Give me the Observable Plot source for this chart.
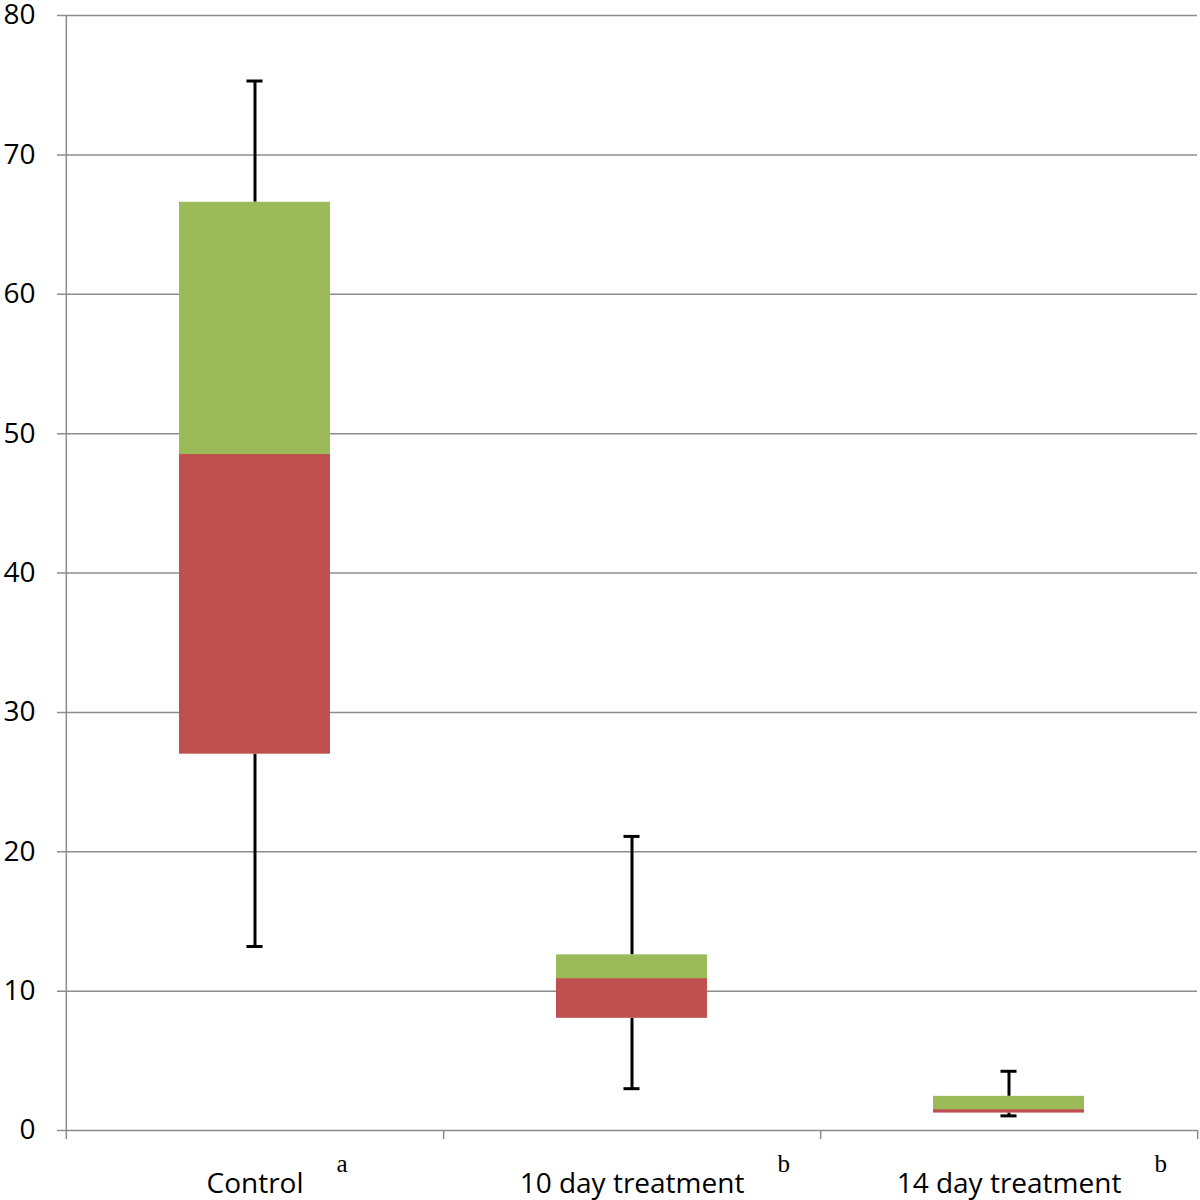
<!DOCTYPE html>
<html><head><meta charset="utf-8">
<script src="https://cdn.jsdelivr.net/npm/d3@7"></script>
<script src="https://cdn.jsdelivr.net/npm/@observablehq/plot@0.6"></script>
<style>html,body{margin:0;padding:0;background:#fff} svg{display:block}</style>
</head><body>
<div id="chart"></div>
<script>
const categories = ["Control", "10 day treatment", "14 day treatment"];
const whiskerMin = [13.2, 3.0, 1.05];
const q1 = [27.0, 8.05, 1.25];
const median = [48.5, 10.9, 1.5];
const q3 = [66.6, 12.6, 2.45];
const whiskerMax = [75.3, 21.1, 4.25];
const letters = ["a", "b", "b"];
const yTicks = [0, 10, 20, 30, 40, 50, 60, 70, 80];

const rows = categories.map((c, i) => ({
  c, min: whiskerMin[i], q1: q1[i], med: median[i], q3: q3[i], max: whiskerMax[i], letter: letters[i]
}));

const W = 1200, H = 1200, ml = 65, mr = 3, mt = 15, mb = 70;
const step = (W - ml - mr) / categories.length;
const bandwidth = step * 0.4;
const capInset = (bandwidth - 16) / 2;
const font = "'Open Sans', sans-serif";
const grid = "#8c8c8c";
const red = "#C0504D", green = "#9BBB59";

const chart = Plot.plot({
  width: W, height: H,
  marginLeft: ml, marginRight: mr, marginTop: mt, marginBottom: mb,
  style: {fontFamily: font, background: "#fff", color: "#000"},
  x: {domain: categories, paddingInner: 0.6, paddingOuter: 0.3},
  y: {domain: [0, 80]},
  marks: [
    Plot.ruleY(yTicks, {stroke: grid, strokeWidth: 1.5, insetLeft: -8}),
    // y axis line
    Plot.ruleX([categories[0]], {x: d => d, y1: 80, y2: 0, dx: -step / 2, stroke: grid, strokeWidth: 1.5, insetBottom: -9}),
    // category boundary ticks
    Plot.ruleX(categories, {x: d => d, y1: 0, y2: 0, dx: step / 2, stroke: grid, strokeWidth: 1.5, insetBottom: -9}),
    Plot.ruleX(rows, {x: "c", y1: "q3", y2: "max", stroke: "#000", strokeWidth: 3}),
    Plot.ruleX(rows, {x: "c", y1: "min", y2: "q1", stroke: "#000", strokeWidth: 3}),
    Plot.barY(rows, {x: "c", y1: "q1", y2: "med", fill: red}),
    Plot.barY(rows, {x: "c", y1: "med", y2: "q3", fill: green}),
    Plot.tickY(rows, {x: "c", y: "max", stroke: "#000", strokeWidth: 3, inset: capInset}),
    Plot.tickY(rows, {x: "c", y: "min", stroke: "#000", strokeWidth: 3, inset: capInset}),
    Plot.axisY(yTicks, {tickSize: 0, tickPadding: 30, fontSize: 28, label: null, tickFormat: d => d}),
    Plot.axisX({tickSize: 0, tickPadding: 43, fontSize: 28, label: null}),
    Plot.text(rows, {x: "c", y: 0, text: "letter", fontFamily: "'Liberation Serif', 'Times New Roman', serif",
      fontSize: 25, textAnchor: "start", lineAnchor: "bottom", dy: 41, fill: "#000"})
  ]
});

document.getElementById("chart").append(chart);

// place the superscript letters just after each category label
const labelNodes = chart.querySelectorAll('g[aria-label="x-axis tick label"] text');
const letterNodes = chart.querySelectorAll('g[aria-label="text"] text');
letterNodes.forEach((node, i) => {
  const lab = labelNodes[i];
  if (!lab) return;
  const w = lab.getComputedTextLength();
  node.setAttribute("dx", w / 2 + 33);
});
</script>
</body></html>
